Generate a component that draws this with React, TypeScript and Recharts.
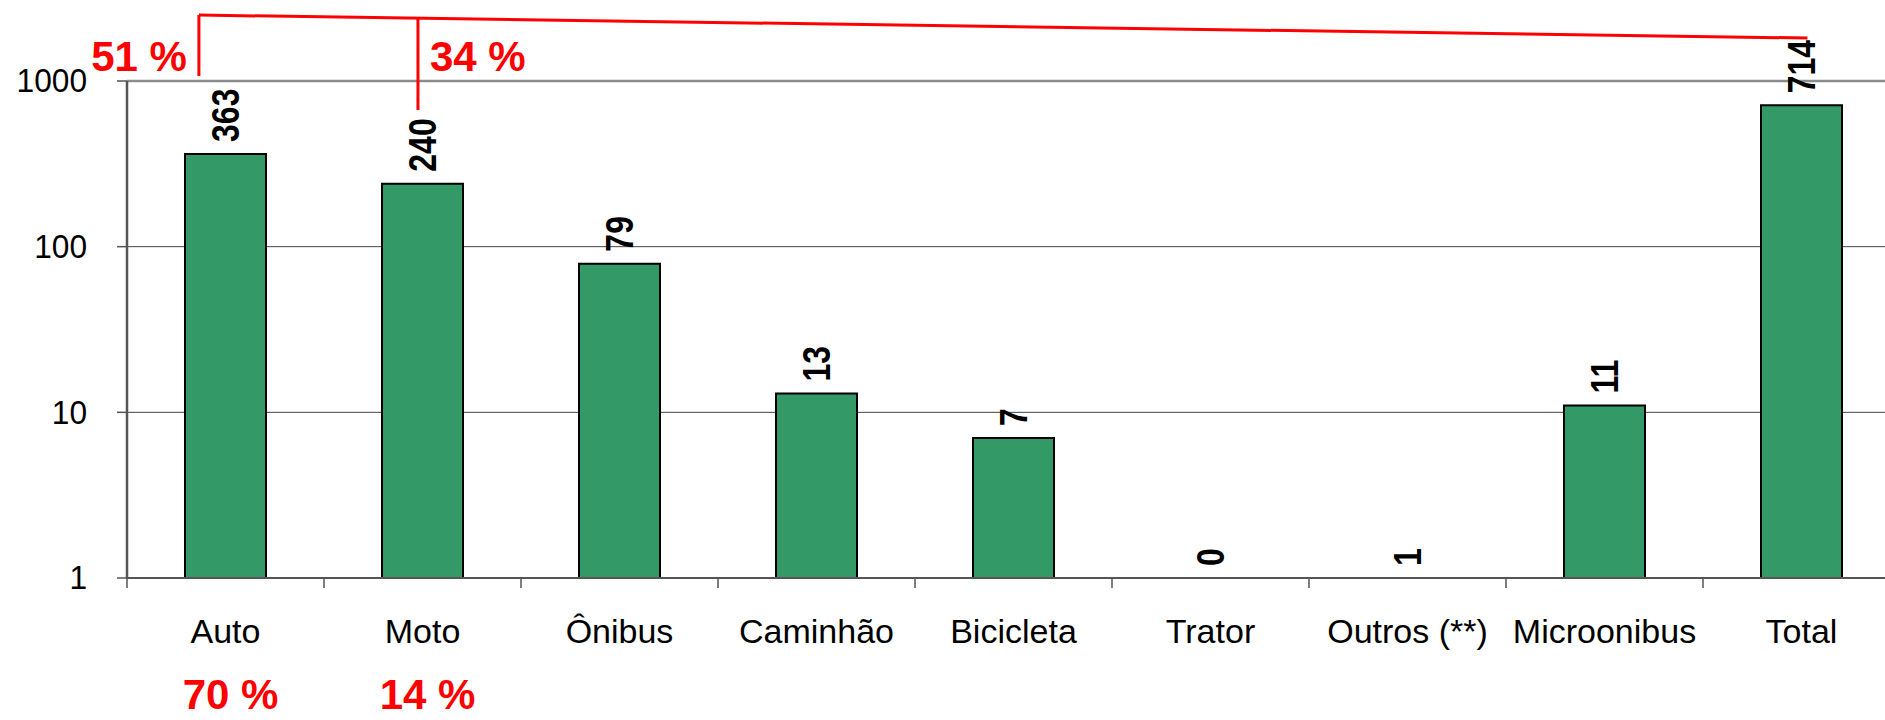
import {
  Bar,
  BarChart,
  CartesianGrid,
  ReferenceDot,
  ReferenceLine,
  XAxis,
  YAxis
} from "recharts";

const categories = ["Auto", "Moto", "Ônibus", "Caminhão", "Bicicleta", "Trator", "Outros (**)", "Microonibus", "Total"];
const counts = [363, 240, 79, 13, 7, 0, 1, 11, 714];
const sharePct = ["70 %", "14 %", "", "", "", "", "", "", ""];
const yTicks = [1, 10, 100, 1000];

// red bracket above the chart (x in category units, y in data units)
const bracketX = { auto: 0.365, moto: 1.477, total: 8.53 };
const bracketY = { autoTop: 2500, motoTop: 2397, totalEnd: 1817, autoBottom: 1072, motoBottom: 668, label: 1150 };
const bracketLabels = ["51 %", "34 %"];

const data = categories.map((name, i) => ({
  name,
  slot: i + 0.5,
  value: counts[i],
  // log axis starts at 1, so a zero count sits on the baseline
  plot: Math.max(counts[i], 1)
}));

const RED = "#ff0000";
const FONT = "'Liberation Sans', Arial, sans-serif";

function CategoryTick(props: any) {
  const { x, y, payload, index } = props;
  const half = payload?.offset ?? 98.5;
  const pct = sharePct[index];
  return (
    <g>
      <line x1={x - half} x2={x - half} y1={y - 10} y2={y} stroke="#555" strokeWidth={1.5} />
      <text x={x} y={y + 55} textAnchor="middle" fontSize={34} fontFamily={FONT} fill="#000">
        {payload.value}
      </text>
      {pct ? (
        <text
          x={x + 5}
          y={y + 121}
          textAnchor="middle"
          fontSize={42}
          fontWeight="bold"
          fontFamily={FONT}
          fill={RED}
        >
          {pct}
        </text>
      ) : null}
    </g>
  );
}

function ValueTick(props: any) {
  const { x, y, payload } = props;
  return (
    <text
      transform={`translate(${x},${y}) scale(0.96,1)`}
      textAnchor="end"
      dominantBaseline="central"
      fontSize={33}
      fontFamily={FONT}
      fill="#000"
    >
      {payload.value}
    </text>
  );
}

function barLabel(text: number) {
  return (p: any) => (
    <text
      transform={`translate(${p.cx},${p.cy - 12}) rotate(-90) scale(0.82,1)`}
      textAnchor="start"
      dominantBaseline="central"
      fontSize={39}
      fontWeight="bold"
      fontFamily={FONT}
      fill="#000"
    >
      {text}
    </text>
  );
}

function pctLabel(side: "left" | "right", text: string) {
  return (p: any) => (
    <text
      x={side === "left" ? p.cx - 12 : p.cx + 12}
      y={p.cy}
      textAnchor={side === "left" ? "end" : "start"}
      fontSize={42}
      fontWeight="bold"
      fontFamily={FONT}
      fill={RED}
    >
      {text}
    </text>
  );
}

export default function App() {
  return (
    <div
      style={{
        position: "fixed",
        left: 0,
        top: 0,
        width: 1885,
        height: 720,
        overflow: "hidden",
        background: "#fff"
      }}
    >
      <BarChart
        width={1920}
        height={720}
        data={data}
        margin={{ top: 81, right: 20, bottom: 0, left: 0 }}
      >
        <CartesianGrid vertical={false} stroke="#444" strokeWidth={1} />
        <XAxis
          dataKey="name"
          height={142}
          interval={0}
          tickSize={10}
          tickMargin={0}
          tickLine={false}
          axisLine={{ stroke: "#555", strokeWidth: 2 }}
          tick={<CategoryTick />}
        />
        <XAxis
          xAxisId="pos"
          dataKey="slot"
          type="number"
          domain={[0, 9]}
          allowDataOverflow
          hide
        />
        <YAxis
          scale="log"
          domain={[1, 1000]}
          ticks={yTicks}
          allowDataOverflow
          width={127}
          tickSize={10}
          tickMargin={30}
          tickLine={{ stroke: "#555", strokeWidth: 1.5 }}
          axisLine={{ stroke: "#555", strokeWidth: 2.5 }}
          tick={<ValueTick />}
        />
        <ReferenceLine y={1000} stroke="#8c8c8c" strokeWidth={2.5} />
        <Bar
          dataKey="plot"
          fill="#339966"
          stroke="#000"
          strokeWidth={2}
          barSize={81}
          isAnimationActive={false}
        />
        {data.map((d) => (
          <ReferenceDot
            key={d.name}
            x={d.name}
            y={d.plot}
            ifOverflow="visible"
            shape={barLabel(d.value)}
          />
        ))}
        <ReferenceLine
          xAxisId="pos"
          ifOverflow="visible"
          stroke={RED}
          strokeWidth={3}
          segment={[
            { x: bracketX.auto, y: bracketY.autoTop },
            { x: bracketX.total, y: bracketY.totalEnd }
          ]}
        />
        <ReferenceLine
          xAxisId="pos"
          ifOverflow="visible"
          stroke={RED}
          strokeWidth={3}
          segment={[
            { x: bracketX.auto, y: bracketY.autoTop },
            { x: bracketX.auto, y: bracketY.autoBottom }
          ]}
        />
        <ReferenceLine
          xAxisId="pos"
          ifOverflow="visible"
          stroke={RED}
          strokeWidth={3}
          segment={[
            { x: bracketX.moto, y: bracketY.motoTop },
            { x: bracketX.moto, y: bracketY.motoBottom }
          ]}
        />
        <ReferenceDot
          xAxisId="pos"
          x={bracketX.auto}
          y={bracketY.label}
          ifOverflow="visible"
          shape={pctLabel("left", bracketLabels[0])}
        />
        <ReferenceDot
          xAxisId="pos"
          x={bracketX.moto}
          y={bracketY.label}
          ifOverflow="visible"
          shape={pctLabel("right", bracketLabels[1])}
        />
      </BarChart>
    </div>
  );
}
